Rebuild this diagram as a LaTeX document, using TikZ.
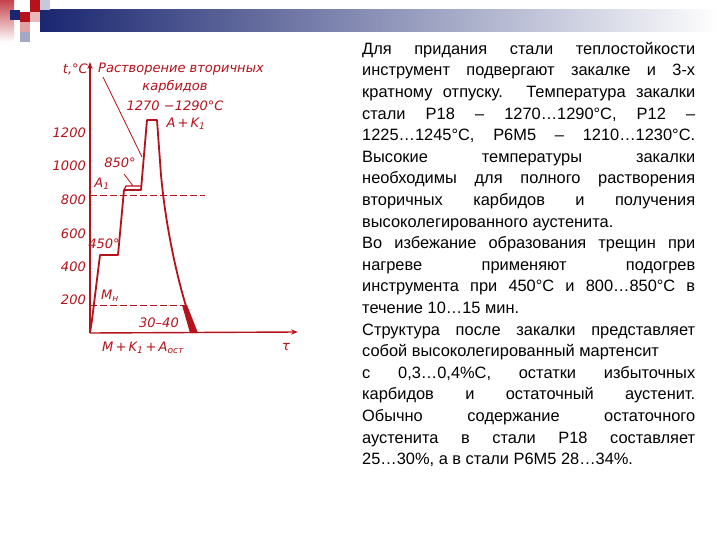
\documentclass[tikz,border=0pt]{standalone}
\usepackage{fontspec}
\setmainfont{Liberation Sans}
\newfontfamily\plotfont{DejaVu Sans}
\definecolor{cr}{HTML}{B5121B}
\definecolor{navy}{HTML}{1A2670}
\usetikzlibrary{arrows.meta}
\begin{document}
\begin{tikzpicture}[x=1pt,y=-1pt,
  lab/.style={text=cr,font=\plotfont\itshape\fontsize{13}{14}\selectfont,inner sep=0pt},
  curve/.style={draw=cr,line width=1.8pt,line join=round},
  dashline/.style={draw=cr,line width=0.9pt,dash pattern=on 7pt off 3pt}]
\useasboundingbox (0,0) rectangle (720,540);
\fill[white] (0,0) rectangle (720,540);
% header
\shade[left color=navy,right color=white] (40,10) rectangle (720,32);
\shade[top color=cr!80,bottom color=white] (0,0) rectangle (14,42);
\fill[navy] (10,10) rectangle (20,20);
\fill[cr] (30,0) rectangle (40,12);
\fill[cr] (20,12) rectangle (30,22);
\fill[cr!30] (30,12) rectangle (40,22);
\fill[cr!40] (20,22) rectangle (30,32);
\fill[navy!40] (20,32) rectangle (30,42);
\fill[navy!25] (40,0) rectangle (50,10);
% axes
\coordinate (O) at (90,333);
\coordinate (Ytop) at (90,62);
\coordinate (Xend) at (298,332);
\draw[cr,line width=1.4pt,-{Stealth[length=7pt]}] (O) -- (Ytop);
\draw[cr,line width=1.4pt,-{Stealth[length=7pt]}] (O) -- (Xend);
% ticks labels
\foreach \v/\yy in {1200/133,1000/166,800/200,600/234,400/267,200/300}
  \node[lab,anchor=east] (t\v) at (86,\yy) {\v};
% dashed lines
\coordinate (a1s) at (90,195); \coordinate (a1e) at (205,195);
\draw[dashline] (a1s) -- (a1e);
\coordinate (mhs) at (90,305); \coordinate (mhe) at (185,305);
\draw[dashline] (mhs) -- (mhe);
% curve
\draw[curve] (O) -- (92,320) -- (100,255) -- (118,255) -- (124,190) -- (141,190) -- (144,155) -- (147,120) -- (157,120) -- (161,175)
  .. controls (166,230) and (178,280) .. (186,306) -- (193,333);
\draw[curve,line width=1.3pt] (124,190) -- (126,186) -- (141,186);
\fill[cr] (182,305) -- (187,305) -- (198,333) -- (190,333) -- cycle;
% leaders
\coordinate (r1) at (103,77); \coordinate (r2) at (142,157);
\draw[cr,line width=0.8pt] (r1) -- (r2);
\coordinate (s1) at (124,174); \coordinate (s2) at (133,186);
\draw[cr,line width=0.8pt] (s1) -- (s2);
% labels
\node[lab,anchor=east] (tc) at (88,69) {t,°C};
\node[lab,anchor=west] (rast) at (98,69) {Растворение вторичных};
\node[lab] (karb) at (175,87) {карбидов};
\node[lab] (temp) at (175,106) {1270\,\,−1290°C};
\node[lab] (ak) at (186,124) {A\,+\,K\textsubscript{1}};
\node[lab] (t850) at (120,163) {850°};
\node[lab] (a1) at (102,184) {A\textsubscript{1}};
\node[lab] (t450) at (104,244) {450°};
\node[lab] (mh) at (110,296) {M\textsubscript{н}};
\node[lab] (t3040) at (159,323) {30–40};
\node[lab] (str) at (143,348) {M\,+\,K\textsubscript{1}\,+\,A\textsubscript{ост}};
\node[lab] (tau) at (286,347) {τ};
% text
\node[anchor=north west,inner sep=0pt,text width=333pt,align=justify,
  font=\fontsize{16.4}{21.6}\selectfont] (txt) at (362,42) {%
Для придания стали теплостойкости\linebreak
инструмент подвергают закалке и 3-х\linebreak
кратному отпуску. Температура закалки\linebreak
стали Р18 – 1270…1290°С, Р12 –\linebreak
1225…1245°С, Р6М5 – 1210…1230°С.\linebreak
Высокие температуры закалки\linebreak
необходимы для полного растворения\linebreak
вторичных карбидов и получения\linebreak
высоколегированного аустенита.\\
Во избежание образования трещин при\linebreak
нагреве применяют подогрев\linebreak
инструмента при 450°С и 800…850°С в\linebreak
течение 10…15 мин.\\
Структура после закалки представляет\linebreak
собой высоколегированный мартенсит\\
с 0,3…0,4\%С, остатки избыточных\linebreak
карбидов и остаточный аустенит.\linebreak
Обычно содержание остаточного\linebreak
аустенита в стали Р18 составляет\linebreak
25…30\%, а в стали Р6М5 28…34\%.};
\end{tikzpicture}
\end{document}
